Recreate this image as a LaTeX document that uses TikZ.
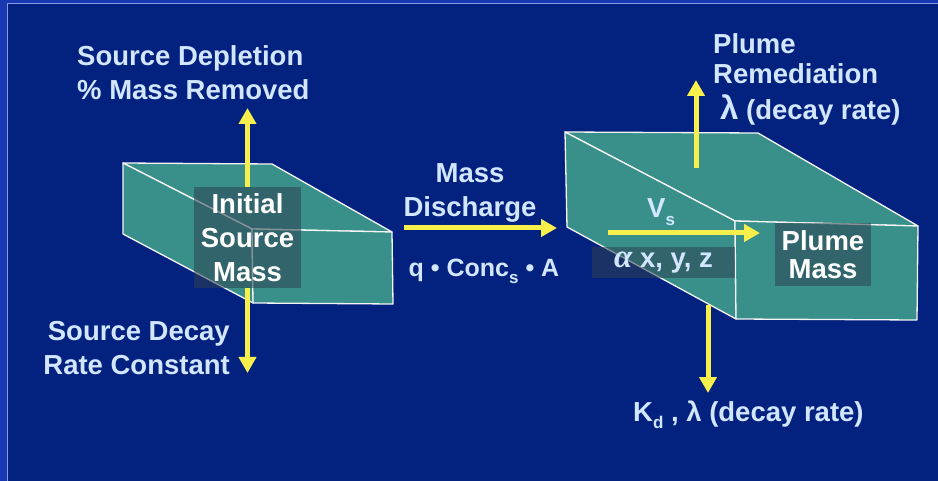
\documentclass[tikz,border=0pt]{standalone}
\usepackage{fontspec}
\setmainfont{Liberation Sans}
\newfontfamily\greekserif{Liberation Serif}
\usepackage{xcolor}
\usepackage{tikz}
\usetikzlibrary{arrows.meta,calc}
\definecolor{slide}{HTML}{03217F}
\definecolor{rim}{HTML}{1A38B2}
\definecolor{rimline}{HTML}{8A9AE6}
\definecolor{aquifer}{HTML}{39908A}
\definecolor{pale}{HTML}{D2E7FF}
\definecolor{flux}{HTML}{F7F04C}
\definecolor{shade}{HTML}{2E4152}
\tikzset{
  face/.style={fill=aquifer,draw=white!92!gray,line width=1.3pt,line join=round},
  tag/.style={fill=shade,fill opacity=0.55,text opacity=1,inner sep=0pt,text=white,
              font=\bfseries\fontsize{27.5}{34}\selectfont,align=center},
  lbl/.style={text=pale,font=\bfseries\fontsize{27.5}{34}\selectfont,inner sep=0pt},
  yarr/.style={-{Triangle[length=16pt,width=17pt]},draw=flux,line width=5pt}
}
\newcommand\sub[1]{\raisebox{-0.28em}{\fontsize{17}{17}\selectfont #1}}

\begin{document}
\begin{tikzpicture}[x=1pt,y=-1pt]
  \useasboundingbox (0,0) rectangle (938,481);
  % slide background and rim
  \fill[slide] (0,0) rectangle (938,481);
  \fill[rim] (0,0) rectangle (7,481);
  \fill[rim] (0,0) rectangle (938,3);
  \draw[rimline,line width=1.3pt] (7.6,481) |- (938,3.8);

  \def\slab#1{%
    \filldraw[face] (#1btl) -- (#1btr) -- (#1ftr) -- (#1ftl) -- cycle;
    \filldraw[face] (#1btl) -- (#1ftl) -- (#1fbl) -- (#1bbl) -- cycle;
    \filldraw[face] (#1ftl) -- (#1ftr) -- (#1fbr) -- (#1fbl) -- cycle;}

  % source block
  \coordinate (sbtl) at (123,163); \coordinate (sbtr) at (272,164);
  \coordinate (sftr) at (392,232); \coordinate (sftl) at (252,229);
  \coordinate (sfbl) at (253,303); \coordinate (sfbr) at (393,304);
  \coordinate (sbbl) at (123,234);
  \slab{s}
  % plume block
  \coordinate (pbtl) at (565,132); \coordinate (pbtr) at (758,133);
  \coordinate (pftr) at (918,226); \coordinate (pftl) at (735,221);
  \coordinate (pfbl) at (736,319); \coordinate (pfbr) at (917,320);
  \coordinate (pbbl) at (567,227);
  \slab{p}

  % arrow ends
  \coordinate (deplTip) at (247.5,108);
  \coordinate (decayTip) at (247.5,373);
  \coordinate (disFrom) at (404,228);
  \coordinate (disTo) at (557,228);
  \coordinate (vsFrom) at (608,233);
  \coordinate (vsTo) at (760,233);
  \coordinate (remFrom) at (696,168);
  \coordinate (remTo) at (696,80);
  \coordinate (sorbFrom) at (708,305);
  \coordinate (sorbTo) at (708,393);

  \node[tag,minimum width=107pt,minimum height=101pt] (srcmass) at (247.5,237.5) {\raisebox{-2pt}{Initial}\\\raisebox{-2pt}{Source}\\\raisebox{-2pt}{Mass}};
  \node[tag,minimum width=96pt,minimum height=63pt,font=\bfseries\fontsize{27.5}{28}\selectfont] (plumemass) at (823,254.5) {\raisebox{-3pt}{Plume}\\\raisebox{-3pt}{Mass}};
  \node[tag,text=pale,minimum width=143pt,minimum height=31pt] (disp) at (663.5,262.5) {{\greekserif\itshape\fontsize{33}{33}\selectfont α} x, y, z};

  \draw[yarr] (srcmass.north) -- (deplTip);
  \draw[yarr] (srcmass.south) -- (decayTip);
  \draw[yarr] (disFrom) -- (disTo);
  \draw[yarr] (vsFrom) -- (vsTo);
  \draw[yarr] (remFrom) -- (remTo);
  \draw[yarr] (sorbFrom) -- (sorbTo);

  % labels
  \node[lbl,anchor=north west,align=left] (depletion) at (77,45) {Source Depletion\\\% Mass Removed};
  \node[lbl,anchor=north east,align=right] (srcdecay) at (230,321) {Source Decay\\Rate Constant};
  \node[lbl,anchor=north,align=center] (discharge) at (470,163) {Mass\\Discharge};
  \node[lbl,anchor=base,font=\bfseries\fontsize{25}{30}\selectfont] (flux) at (484,277) {q • Conc\sub{s} • A};
  \node[lbl,anchor=base west] (vs) at (647,218) {V\sub{s}};
  \node[lbl,anchor=north west,align=left,font=\bfseries\fontsize{27.5}{30}\selectfont] (remed) at (713,33) {Plume\\Remediation};
  \node[lbl,anchor=base west] (remrate) at (720,120) {{\fontsize{33}{33}\selectfont λ} (decay rate)};
  \node[lbl,anchor=base west] (sorb) at (633,421) {K\sub{d} , λ (decay rate)};
\end{tikzpicture}
\end{document}
